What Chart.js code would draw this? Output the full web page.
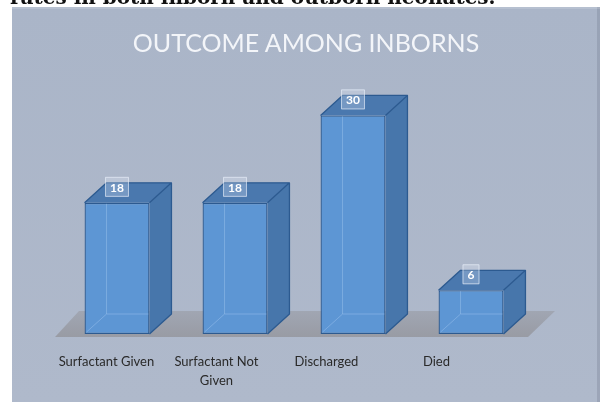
<!DOCTYPE html>
<html>
<head>
<meta charset="utf-8">
<script src="https://cdn.jsdelivr.net/npm/chart.js@4.4.1/dist/chart.umd.min.js"></script>
<style>
  html, body { margin: 0; padding: 0; background: #ffffff; }
  #wrap { position: relative; width: 606px; height: 402px; overflow: hidden; }
  #cap { position: absolute; left: 10px; top: -15px; font: bold 20px "DejaVu Serif", serif; color: #111; white-space: nowrap; z-index: 2; }
  #ttl { position: absolute; left: 0; width: 612px; top: 27px; text-align: center; font: 25px/30px Lato, sans-serif; color: #f3f5f9; white-space: nowrap; z-index: 2; }
  canvas { position: absolute; left: 0; top: 0; }
</style>
</head>
<body>
<div id="wrap">
  <canvas id="c" width="606" height="402"></canvas>
  <div id="cap">rates in both inborn and outborn neonates.</div>
  <div id="ttl"></div>
</div>
<script>
const categories = [['Surfactant Given'], ['Surfactant Not', 'Given'], ['Discharged'], ['Died']];
const values = [18, 18, 30, 6];
const titleText = 'OUTCOME AMONG INBORNS';
const yMax = 37;
// category labels sit on the floor's front edge, which is narrower than the bar spacing
const labelAxisMin = -0.44, labelAxisMax = 3.85;

document.getElementById('ttl').textContent = titleText;

const DX = 22, DY = 20;

const box3d = {
  id: 'box3d',
  beforeDraw(chart) {
    const ctx = chart.ctx;
    ctx.save();
    ctx.fillStyle = '#ffffff';
    ctx.fillRect(0, 0, 606, 402);
    const g = ctx.createLinearGradient(0, 7, 0, 402);
    g.addColorStop(0, '#aab5c8');
    g.addColorStop(1, '#afb9cb');
    ctx.fillStyle = g;
    ctx.fillRect(12, 7, 588, 395);
    ctx.fillStyle = 'rgba(120,130,150,0.35)';
    ctx.fillRect(597, 7, 3, 395);
    ctx.fillStyle = 'rgba(255,255,255,0.15)';
    ctx.fillRect(12, 7, 588, 2);
    ctx.restore();
  },
  beforeDatasetsDraw(chart) {
    const { ctx, chartArea } = chart;
    const base = chart.scales.y.getPixelForValue(0);
    const L = chartArea.left - 3, R = chartArea.right - 2;
    ctx.save();
    const g = ctx.createLinearGradient(0, base - 24, 0, base + 3);
    g.addColorStop(0, 'rgba(150,152,160,0.55)');
    g.addColorStop(1, 'rgba(150,152,160,0.9)');
    ctx.fillStyle = g;
    ctx.beginPath();
    ctx.moveTo(L, base + 3);
    ctx.lineTo(R, base + 3);
    ctx.lineTo(R + 27, base - 23);
    ctx.lineTo(L + 24, base - 23);
    ctx.closePath();
    ctx.fill();
    ctx.restore();
  },
  afterDatasetsDraw(chart) {
    const ctx = chart.ctx;
    const meta = chart.getDatasetMeta(0);
    const data = chart.data.datasets[0].data;
    meta.data.forEach((bar, i) => {
      const { x, y, base, width } = bar.getProps(['x', 'y', 'base', 'width'], true);
      const l = x - width / 2, r = x + width / 2;
      ctx.save();
      ctx.lineJoin = 'round';
      ctx.strokeStyle = 'rgba(150,190,235,0.55)';
      ctx.lineWidth = 1;
      ctx.beginPath();
      ctx.moveTo(l + DX, y + 1); ctx.lineTo(l + DX, base - DY);
      ctx.lineTo(r - 1, base - DY);
      ctx.moveTo(l + DX, base - DY); ctx.lineTo(l + 2, base - 2);
      ctx.stroke();
      ctx.fillStyle = '#4776ab';
      ctx.beginPath();
      ctx.moveTo(r, y); ctx.lineTo(r + DX, y - DY); ctx.lineTo(r + DX, base - DY); ctx.lineTo(r, base);
      ctx.closePath(); ctx.fill();
      ctx.fillStyle = '#4a78ae';
      ctx.beginPath();
      ctx.moveTo(l, y); ctx.lineTo(l + DX, y - DY); ctx.lineTo(r + DX, y - DY); ctx.lineTo(r, y);
      ctx.closePath(); ctx.fill();
      ctx.strokeStyle = '#2c5a90';
      ctx.lineWidth = 1.3;
      ctx.beginPath();
      ctx.moveTo(l, y); ctx.lineTo(l + DX, y - DY); ctx.lineTo(r + DX, y - DY); ctx.lineTo(r, y);
      ctx.moveTo(r + DX, y - DY); ctx.lineTo(r + DX, base - DY); ctx.lineTo(r, base);
      ctx.stroke();
      const txt = String(data[i]);
      ctx.font = 'bold 12px Lato';
      const tw = ctx.measureText(txt).width;
      const bw = tw + 10, bh = 20;
      const cx = x, cy = y - 16;
      ctx.fillStyle = 'rgba(230,238,250,0.28)';
      ctx.fillRect(cx - bw / 2, cy - bh / 2, bw, bh);
      ctx.strokeStyle = 'rgba(235,242,252,0.6)';
      ctx.lineWidth = 1;
      ctx.strokeRect(cx - bw / 2 + 0.5, cy - bh / 2 + 0.5, bw - 1, bh - 1);
      ctx.fillStyle = '#ffffff';
      ctx.textAlign = 'center';
      ctx.textBaseline = 'middle';
      ctx.fillText(txt, cx, cy + 1);
      ctx.restore();
    });
  }
};

new Chart(document.getElementById('c'), {
  type: 'bar',
  data: {
    labels: categories,
    datasets: [{
      data: values,
      xAxisID: 'x',
      backgroundColor: '#5d96d4',
      borderColor: '#2c5a90',
      borderWidth: 1.3,
      borderSkipped: false,
      categoryPercentage: 1,
      barPercentage: 0.55
    }]
  },
  plugins: [box3d],
  options: {
    responsive: false,
    animation: false,
    devicePixelRatio: 1,
    layout: { padding: { left: 58, right: 76, top: 64.4, bottom: 0 } },
    plugins: {
      legend: { display: false },
      tooltip: { enabled: false },
      title: { display: false }
    },
    scales: {
      x: {
        type: 'category',
        display: false
      },
      xl: {
        type: 'linear',
        position: 'bottom',
        offset: false,
        min: labelAxisMin,
        max: labelAxisMax,
        grid: { display: false, drawTicks: false, offset: false },
        border: { display: false },
        afterBuildTicks: (s) => { s.ticks = categories.map((c, i) => ({ value: i })); },
        ticks: {
          callback: (v, i) => categories[i],
          color: '#2a2a2a',
          font: { family: 'Lato', size: 13, lineHeight: 1.5 },
          padding: 18,
          maxRotation: 0,
          autoSkip: false
        },
        afterFit: (s) => { s.height = 68; }
      },
      y: {
        display: false,
        min: 0,
        max: yMax
      }
    }
  }
});
</script>
</body>
</html>
